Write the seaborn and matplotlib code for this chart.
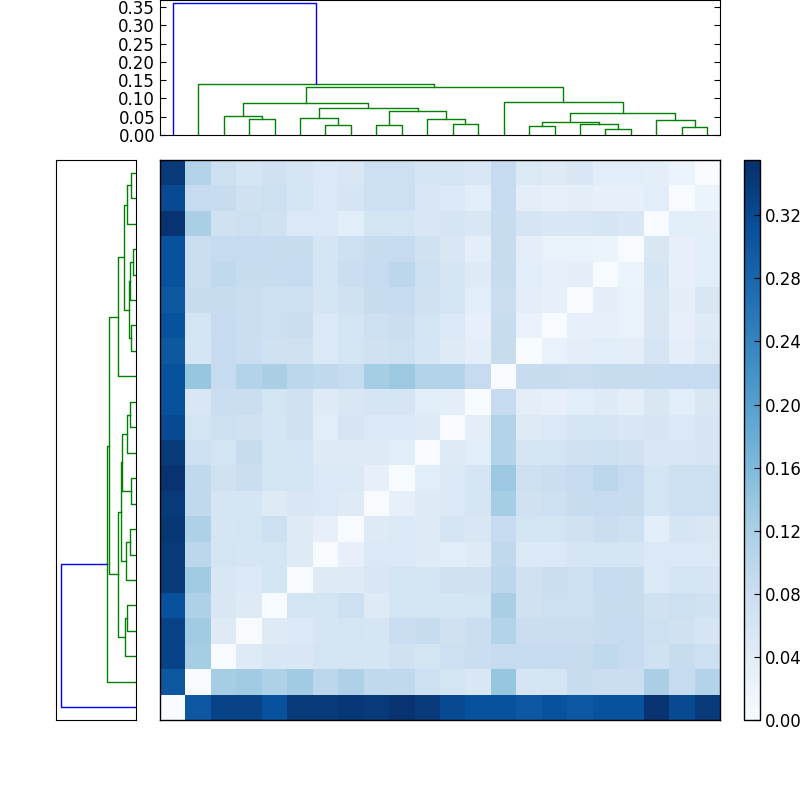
import numpy as np
import pandas as pd
import seaborn as sns
import matplotlib
matplotlib.use("Agg")
import matplotlib.pyplot as plt

# lower triangle of the distance matrix (leaf order), row i holds D[i][0..i-1]
lower_rows = [
    [0.30],
    [0.33, 0.125],
    [0.33, 0.13, 0.045],
    [0.31, 0.115, 0.055, 0.045],
    [0.34, 0.13, 0.055, 0.05, 0.065],
    [0.34, 0.10, 0.065, 0.06, 0.065, 0.045],
    [0.345, 0.115, 0.06, 0.065, 0.075, 0.045, 0.03],
    [0.34, 0.095, 0.06, 0.06, 0.045, 0.055, 0.05, 0.045],
    [0.35, 0.095, 0.07, 0.08, 0.065, 0.065, 0.05, 0.05, 0.03],
    [0.34, 0.075, 0.065, 0.085, 0.065, 0.065, 0.045, 0.045, 0.045, 0.04],
    [0.32, 0.065, 0.075, 0.07, 0.06, 0.07, 0.04, 0.06, 0.05, 0.05, 0.045],
    [0.31, 0.055, 0.08, 0.08, 0.065, 0.07, 0.045, 0.055, 0.06, 0.06, 0.04, 0.035],
    [0.31, 0.14, 0.09, 0.11, 0.12, 0.10, 0.095, 0.09, 0.125, 0.135, 0.11, 0.11, 0.09],
    [0.30, 0.06, 0.09, 0.08, 0.07, 0.07, 0.05, 0.065, 0.07, 0.075, 0.06, 0.045, 0.035, 0.085],
    [0.31, 0.065, 0.09, 0.08, 0.075, 0.08, 0.05, 0.065, 0.075, 0.08, 0.065, 0.05, 0.03, 0.085, 0.025],
    [0.30, 0.085, 0.085, 0.08, 0.075, 0.075, 0.06, 0.07, 0.085, 0.09, 0.07, 0.06, 0.04, 0.08, 0.035, 0.03],
    [0.31, 0.08, 0.095, 0.085, 0.085, 0.09, 0.065, 0.08, 0.09, 0.10, 0.075, 0.06, 0.045, 0.085, 0.04, 0.03, 0.035],
    [0.31, 0.08, 0.09, 0.09, 0.085, 0.085, 0.06, 0.075, 0.085, 0.09, 0.07, 0.055, 0.035, 0.085, 0.035, 0.025, 0.025, 0.02],
    [0.35, 0.12, 0.07, 0.075, 0.07, 0.05, 0.05, 0.04, 0.065, 0.065, 0.055, 0.06, 0.055, 0.085, 0.06, 0.055, 0.055, 0.06, 0.055],
    [0.32, 0.09, 0.085, 0.07, 0.075, 0.065, 0.05, 0.06, 0.075, 0.075, 0.055, 0.05, 0.04, 0.09, 0.035, 0.03, 0.035, 0.03, 0.03, 0.04],
    [0.34, 0.11, 0.075, 0.06, 0.07, 0.06, 0.05, 0.055, 0.075, 0.075, 0.06, 0.06, 0.055, 0.09, 0.05, 0.045, 0.055, 0.04, 0.04, 0.035, 0.02],
]

# linkage (leaves 0..21 already in dendrogram order, new nodes numbered from 22)
merge_left = [17, 20, 14, 8, 6, 11, 16, 24, 19, 3, 10, 5, 2, 29, 25, 33, 34, 13, 38, 1, 0]
merge_right = [18, 21, 15, 9, 7, 12, 22, 28, 23, 4, 27, 26, 31, 30, 32, 36, 37, 35, 39, 40, 41]
merge_height = [0.016, 0.022, 0.024, 0.026, 0.028, 0.030, 0.031, 0.035, 0.041, 0.0435,
                0.044, 0.047, 0.052, 0.059, 0.065, 0.074, 0.087, 0.089, 0.131, 0.139, 0.361]

n = len(lower_rows) + 1
D = np.zeros((n, n))
for i, row in enumerate(lower_rows, start=1):
    D[i, :i] = row
    D[:i, i] = row
df = pd.DataFrame(D)


def dendro_segments():
    pos = {i: i + 0.5 for i in range(n)}
    hgt = {i: 0.0 for i in range(n)}
    segs = []
    for k, (a, b, h) in enumerate(zip(merge_left, merge_right, merge_height)):
        node = n + k
        segs.append(([pos[a], pos[a], pos[b], pos[b]], [hgt[a], h, h, hgt[b]],
                     "b" if k == len(merge_height) - 1 else "g"))
        pos[node] = (pos[a] + pos[b]) / 2
        hgt[node] = h
    return segs


fig = plt.figure(figsize=(8, 8), dpi=100, facecolor="white")
ax_heat = fig.add_axes([0.2, 0.1, 0.7, 0.7])
ax_top = fig.add_axes([0.2, 0.83125, 0.7, 0.16875])
ax_left = fig.add_axes([0.07, 0.1, 0.1, 0.7])
ax_cbar = fig.add_axes([0.93, 0.1, 0.02, 0.7])

sns.heatmap(df.iloc[::-1], ax=ax_heat, cmap="Blues", vmin=0, vmax=0.355,
            cbar_ax=ax_cbar, xticklabels=False, yticklabels=False)
ax_heat.set_xlabel("")
ax_heat.set_ylabel("")
for s in ax_heat.spines.values():
    s.set_visible(True)
    s.set_linewidth(1)

cbar = ax_heat.collections[0].colorbar
cbar.set_ticks(np.arange(0, 0.33, 0.04))
cbar.ax.set_yticklabels([f"{t:.2f}" for t in np.arange(0, 0.33, 0.04)], fontsize=12)
cbar.ax.tick_params(direction="in", length=4)
cbar.outline.set_linewidth(1)

segs = dendro_segments()
for xs, ys, c in segs:
    ax_top.plot(xs, ys, color=c, lw=1)
    # left dendrogram: leaf 0 at the bottom, same as the heatmap rows
    ax_left.plot(ys, [n - (n - x) for x in xs], color=c, lw=1)

ax_top.set_xlim(0, n)
ax_top.set_ylim(0, 0.369)
ax_top.set_xticks([])
ax_top.set_yticks(np.arange(0, 0.36, 0.05))
ax_top.set_yticklabels([f"{t:.2f}" for t in np.arange(0, 0.36, 0.05)], fontsize=12)
ax_top.tick_params(axis="y", direction="in", right=True, length=4)

ax_left.set_ylim(0, n)
ax_left.set_xlim(0.385, 0)
ax_left.set_xticks([])
ax_left.set_yticks([])

fig.savefig("out.png", dpi=100, facecolor="white")
